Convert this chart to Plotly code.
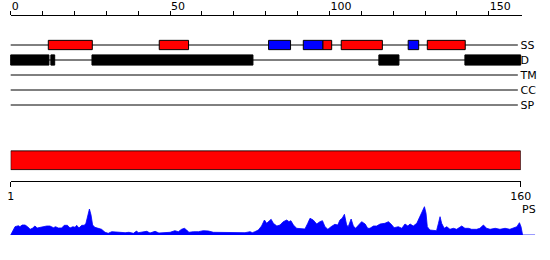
import plotly.graph_objects as go

# ---------------- data ----------------
tracks = ["SS", "D", "TM", "CC", "SP"]

helix_start = [11.8, 46.6, 97.9, 103.7, 130.7]
helix_end = [25.6, 55.8, 100.7, 116.6, 142.6]
strand_start = [80.9, 91.8, 124.7]
strand_end = [87.8, 97.9, 128.0]
disorder_start = [0.0, 12.6, 25.5, 115.5, 142.5]
disorder_end = [12.0, 13.8, 76.0, 121.8, 160.0]

seq_start, seq_end = 1, 160

ruler_ticks = list(range(0, 160, 10))
ruler_labels = [str(v) if v % 50 == 0 else "" for v in ruler_ticks]

ps_pos = [
    0, 1.35, 2.4, 2.9, 3.6, 4.5, 5.3, 6.1, 6.8, 7.6,
    8.3, 9.7, 11.3, 12.3, 13.4, 14.1, 14.9, 16.0, 16.8, 17.8,
    18.6, 19.5, 20.2, 20.7, 21.4, 22.3, 23.1, 23.6, 24.2, 24.7,
    25.2, 25.7, 26.4, 27.5, 28.5, 29.6, 30.6, 31.7, 32.7, 34.3,
    35.9, 37.1, 38.5, 39.5, 40.0, 41.3, 42.7, 43.7, 45.3, 46.5,
    48.4, 50.0, 51.5, 52.6, 53.6, 54.5, 55.2, 55.9, 57.3, 58.9,
    60.4, 62.0, 63.6, 65.1, 67.2, 68.8, 70.4, 71.9, 73.5, 75.1,
    75.8, 76.6, 77.7, 78.7, 79.6, 80.3, 80.8, 81.7, 82.4, 83.5,
    84.5, 85.5, 86.6, 87.3, 87.9, 88.7, 89.7, 91.3, 92.3, 93.2,
    93.9, 94.9, 96.0, 97.0, 97.8, 98.6, 99.5, 100.5, 101.7, 102.6,
    103.3, 104.0, 104.7, 105.4, 105.9, 106.8, 107.5, 108.2, 109.1, 110.1,
    111.2, 112.0, 112.7, 113.8, 114.8, 115.9, 117.4, 118.5, 119.3, 120.3,
    121.6, 122.7, 123.7, 124.6, 125.3, 126.3, 127.4, 128.4, 129.3, 129.8,
    130.3, 130.7, 131.5, 132.6, 133.6, 134.2, 134.7, 135.2, 136.0, 136.8,
    137.8, 138.9, 139.9, 141.5, 142.5, 143.6, 144.6, 146.2, 147.2, 148.3,
    149.3, 150.4, 152.0, 153.5, 155.1, 156.6, 157.7, 158.8, 159.6, 160.1,
    160.6, 164.5,
]
ps_val = [
    0, 8.3, 9.3, 8.3, 10, 10, 8.3, 5.7, 6.7, 9,
    7, 8, 9, 9, 7.3, 8.3, 7, 7, 9.7, 9.7,
    7, 8.3, 7.7, 9.7, 7, 9.7, 9.7, 11.7, 18.3, 26,
    20, 10, 7.7, 6.3, 5.7, 2.7, 1.7, 3.3, 3.3, 2.7,
    2.3, 2.7, 1.7, 4, 2.3, 2.7, 3.7, 2, 3.7, 2,
    2.3, 2.7, 4.3, 3.3, 5.7, 6.7, 5, 2.7, 3.3, 3.3,
    4.3, 4, 2.7, 2.7, 2.3, 2.7, 2.3, 2.7, 2.3, 3.3,
    2.3, 3.3, 5, 9, 15, 11.7, 13.3, 15.7, 11.7, 9,
    10, 13.3, 15, 13.3, 14.3, 10, 6.7, 6, 6, 11.7,
    16.7, 15, 11, 13.3, 14.3, 8.3, 5.7, 8.3, 10.7, 10,
    15, 16.7, 20.7, 10, 8.3, 16, 9, 6.7, 10, 13.3,
    11, 6.7, 6.7, 9, 9, 11, 11.7, 13.3, 11, 7.3,
    8.3, 6.7, 11, 9, 11, 9, 11.7, 18.3, 23.3, 28.3,
    21.7, 8.3, 5, 4.3, 4.3, 11.7, 18.3, 11.7, 6.7, 8.3,
    5.7, 6.7, 5.7, 9, 6.7, 6.7, 5.7, 5.7, 6.7, 10,
    6.7, 5.7, 6.7, 5.7, 6.7, 5.7, 6.7, 8.3, 12.3, 8.3,
    0, 0,
]

# ---------------- figure ----------------
W, H = 550, 260
FONT = dict(family="DejaVu Sans", size=11, color="black")
fig = go.Figure()


def add_boxes(starts, ends, track, color, width):
    fig.add_trace(go.Bar(
        orientation="h", y=[track] * len(starts), base=starts,
        x=[e - s for s, e in zip(starts, ends)], width=width,
        marker=dict(color=color, line=dict(color="black", width=1)),
        xaxis="x", yaxis="y", hoverinfo="skip", showlegend=False))


add_boxes(helix_start, helix_end, "SS", "#ff0000", 0.62)
add_boxes(strand_start, strand_end, "SS", "#0000ff", 0.62)
add_boxes(disorder_start, disorder_end, "D", "#000000", 0.68)

# whole-sequence bar on its own ruler axis
fig.add_trace(go.Bar(
    orientation="h", y=[0], base=[seq_start], x=[seq_end - seq_start],
    width=0.95, marker=dict(color="#ff0000", line=dict(color="black", width=1)),
    xaxis="x3", yaxis="y2", hoverinfo="skip", showlegend=False))

# dummy trace to realise the top ruler axis
fig.add_trace(go.Scatter(
    x=ruler_ticks, y=[None] * len(ruler_ticks), mode="markers",
    xaxis="x2", yaxis="y", hoverinfo="skip", showlegend=False))

# PS profile
fig.add_trace(go.Scatter(
    x=ps_pos, y=ps_val, mode="lines", fill="tozeroy",
    line=dict(color="#0000ff", width=0.8), fillcolor="#0000ff",
    xaxis="x", yaxis="y3", hoverinfo="skip", showlegend=False))

# track base lines (below the boxes)
for t in tracks:
    fig.add_shape(type="line", xref="x", yref="y", x0=0, x1=seq_end - 0.9,
                  y0=t, y1=t, line=dict(color="black", width=1), layer="below")

fig.add_annotation(text="PS", xref="x", yref="paper", x=seq_end,
                   y=(H - 209.5) / H, xanchor="left", yanchor="middle",
                   xshift=-1, showarrow=False, font=FONT)

px0 = 10.7
scale = 510 / 160
fig.update_layout(
    template="none",
    width=W, height=H, margin=dict(l=0, r=0, t=0, b=0, pad=0),
    paper_bgcolor="white", plot_bgcolor="rgba(0,0,0,0)", barmode="overlay",
    showlegend=False, font=FONT,
    xaxis=dict(domain=[0, 1], range=[-px0 / scale, (W - px0) / scale],
               visible=False, anchor="y3", fixedrange=True, automargin=False),
    xaxis2=dict(domain=[px0 / W, 521.7 / W], range=[0, 160.3],
                anchor="free", position=(H - 14.5) / H, side="top",
                tickmode="array", tickvals=ruler_ticks, ticktext=ruler_labels,
                ticks="outside", ticklen=4, tickwidth=1, tickcolor="black",
                ticklabelposition="outside right", automargin=False,
                showline=True, linecolor="black", linewidth=1,
                showgrid=False, zeroline=False, tickfont=FONT),
    xaxis3=dict(domain=[px0 / W, 520.7 / W], range=[seq_start, seq_end],
                anchor="free", position=(H - 180.5) / H, side="bottom",
                tickmode="array", tickvals=[seq_start, seq_end],
                ticktext=[str(seq_start), str(seq_end)], automargin=False,
                ticks="outside", ticklen=5, tickwidth=1, tickcolor="black",
                showline=True, linecolor="black", linewidth=1,
                showgrid=False, zeroline=False, tickfont=FONT),
    yaxis=dict(domain=[(H - 120) / H, 1], type="category",
               categoryorder="array", categoryarray=tracks,
               range=[5, -3], anchor="free", position=519.5 / W, side="right",
               ticks="", showline=False, showgrid=False, zeroline=False,
               tickfont=FONT, automargin=False),
    yaxis2=dict(domain=[(H - 170.3) / H, (H - 150.3) / H], range=[-0.5, 0.5],
                visible=False, anchor="x3", automargin=False),
    yaxis3=dict(domain=[25 / H, 55 / H], range=[0, 30], visible=False,
                anchor="x", automargin=False),
)

fig.write_html("out.html")
